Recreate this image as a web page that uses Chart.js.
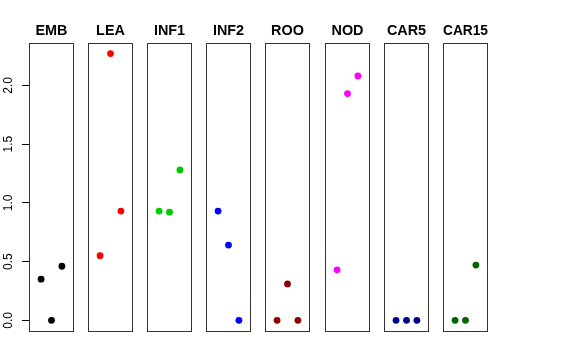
<!DOCTYPE html>
<html>
<head>
<meta charset="utf-8">
<script src="https://cdn.jsdelivr.net/npm/chart.js@4/dist/chart.umd.min.js"></script>
<style>
  html, body { margin: 0; padding: 0; background: #fff; }
  #wrap { position: relative; width: 576px; height: 360px; overflow: hidden; background: #fff; }
  #wrap canvas { position: absolute; top: 0; }
</style>
</head>
<body>
<div id="wrap"></div>
<script>
// ---- data ----
const categories = ['EMB', 'LEA', 'INF1', 'INF2', 'ROO', 'NOD', 'CAR5', 'CAR15'];
const xPositions = [1, 2, 3];
const EMB   = [0.35, 0.00, 0.46];
const LEA   = [0.55, 2.27, 0.93];
const INF1  = [0.93, 0.92, 1.28];
const INF2  = [0.93, 0.64, 0.00];
const ROO   = [0.00, 0.31, 0.00];
const NOD   = [0.43, 1.93, 2.08];
const CAR5  = [0.00, 0.00, 0.00];
const CAR15 = [0.00, 0.00, 0.47];
const seriesValues = [EMB, LEA, INF1, INF2, ROO, NOD, CAR5, CAR15];
const seriesColors = ['#000000', '#FF0000', '#00CD00', '#0000FF', '#8B0000', '#FF00FF', '#00008B', '#006400'];
const yTickValues = [0, 0.5, 1, 1.5, 2];
const yTickLabels = ['0.0', '0.5', '1.0', '1.5', '2.0'];
const yMin = -0.091, yMax = 2.36;
const xMin = -0.16, xMax = 4.16;

// ---- layout ----
const panelLefts = [29, 88, 147, 206, 265, 325, 384, 443];
const panelWidth = 45;
const side = 29;
const FONT = '"Liberation Sans", Arial, Helvetica, sans-serif';

Chart.defaults.color = '#000';
Chart.defaults.font.family = FONT;

const boxPlugin = {
  id: 'panelBox',
  afterDatasetsDraw(chart) {
    const a = chart.chartArea, ctx = chart.ctx;
    ctx.save();
    ctx.strokeStyle = '#333';
    ctx.lineWidth = 1;
    ctx.strokeRect(Math.round(a.left) + 0.5, Math.round(a.top) + 0.5,
                   Math.round(a.right - a.left) - 1, Math.round(a.bottom - a.top));
    ctx.restore();
  }
};

const wrap = document.getElementById('wrap');
categories.forEach((name, i) => {
  const cv = document.createElement('canvas');
  const w = side + panelWidth + side;
  cv.width = w; cv.height = 360;
  cv.style.width = w + 'px'; cv.style.height = '360px';
  cv.style.left = (panelLefts[i] - side) + 'px';
  wrap.appendChild(cv);
  const first = i === 0;
  new Chart(cv.getContext('2d'), {
    type: 'scatter',
    data: {
      datasets: [{
        data: xPositions.map((x, k) => ({ x: x, y: seriesValues[i][k] })),
        backgroundColor: seriesColors[i],
        borderColor: seriesColors[i],
        borderWidth: 0,
        pointRadius: 3.4,
        pointHoverRadius: 3.4
      }]
    },
    plugins: [boxPlugin],
    options: {
      responsive: false,
      animation: false,
      events: [],
      layout: { padding: { left: first ? 0 : side, right: side, top: 0, bottom: 29 } },
      plugins: {
        legend: { display: false },
        tooltip: { enabled: false },
        title: {
          display: true,
          text: name,
          color: '#000',
          fullSize: !first,
          font: { family: FONT, size: 14.4, weight: 'bold', lineHeight: 1.2 },
          padding: { top: 21.9, bottom: 3.82 }
        }
      },
      scales: {
        x: { type: 'linear', min: xMin, max: xMax, display: false },
        y: {
          type: 'linear', min: yMin, max: yMax,
          display: first,
          afterBuildTicks: (s) => { s.ticks = yTickValues.map(v => ({ value: v })); },
          afterFit: (s) => { s.width = first ? side : 0; },
          grid: { drawOnChartArea: false, drawTicks: true, tickLength: 7, color: '#000', lineWidth: 1 },
          border: { display: true, color: '#000', width: 1 },
          ticks: {
            minRotation: 90, maxRotation: 90,
            crossAlign: 'center',
            padding: 4.6,
            font: { family: FONT, size: 12 },
            color: '#000',
            callback: (v) => { const k = yTickValues.indexOf(v); return k >= 0 ? yTickLabels[k] : ''; }
          }
        }
      }
    }
  });
});
</script>
</body>
</html>
